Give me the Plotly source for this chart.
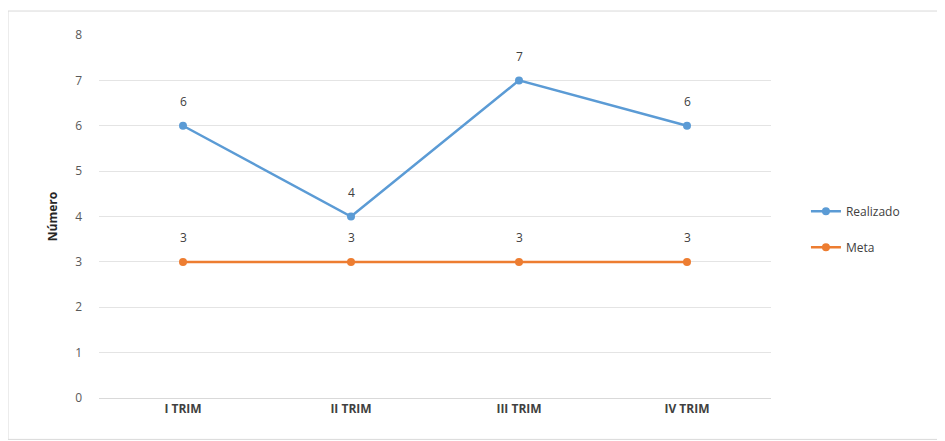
import plotly.graph_objects as go

categories = ["I TRIM", "II TRIM", "III TRIM", "IV TRIM"]
realizado = [6, 4, 7, 6]
meta = [3, 3, 3, 3]
y_ticks = [0, 1, 2, 3, 4, 5, 6, 7, 8]

BLUE = "#5B9BD5"
ORANGE = "#ED7D31"
FONT = "Open Sans"

fig = go.Figure()
fig.add_trace(go.Scatter(x=categories, y=realizado, mode="lines+markers", name="Realizado",
                         line=dict(color=BLUE, width=2.5), marker=dict(size=8, color=BLUE),
                         legendgroup="a"))
fig.add_trace(go.Scatter(x=categories, y=meta, mode="lines+markers", name="Meta",
                         line=dict(color=ORANGE, width=2.5), marker=dict(size=8, color=ORANGE),
                         legendgroup="b"))

annotations = []
for series in (realizado, meta):
    for c, v in zip(categories, series):
        annotations.append(dict(x=c, y=v, text=str(v), showarrow=False, yshift=24,
                                font=dict(family=FONT, size=12, color="#404040")))

fig.update_layout(
    width=937, height=433,
    margin=dict(l=91, r=174, t=27, b=43),
    paper_bgcolor="white", plot_bgcolor="white",
    font=dict(family=FONT, size=12, color="#595959"),
    xaxis=dict(range=[-0.5, 3.5], showgrid=False, showline=True, linecolor="#D9D9D9",
               ticks="", tickfont=dict(family=FONT, size=12, color="#404040", weight="bold")),
    yaxis=dict(range=[0, 8], tickvals=y_ticks, showgrid=True, gridcolor="#E4E4E4",
               zeroline=False, showline=False, ticks="", ticklabelstandoff=16,
               tickfont=dict(family=FONT, size=12, color="#595959"),
               title=dict(text="Número", standoff=14,
                          font=dict(family=FONT, size=12, color="#262626", weight="bold"))),
    legend=dict(x=1.052, y=0.465, xanchor="left", yanchor="middle", tracegroupgap=17,
                font=dict(family=FONT, size=12, color="#404040")),
    annotations=annotations,
    shapes=[dict(type="rect", xref="paper", yref="paper", x0=-0.1354, x1=1.256, y0=-0.114, y1=1.066,
                 line=dict(color="#D9D9D9", width=1))],
)

fig.write_html("out.html")
